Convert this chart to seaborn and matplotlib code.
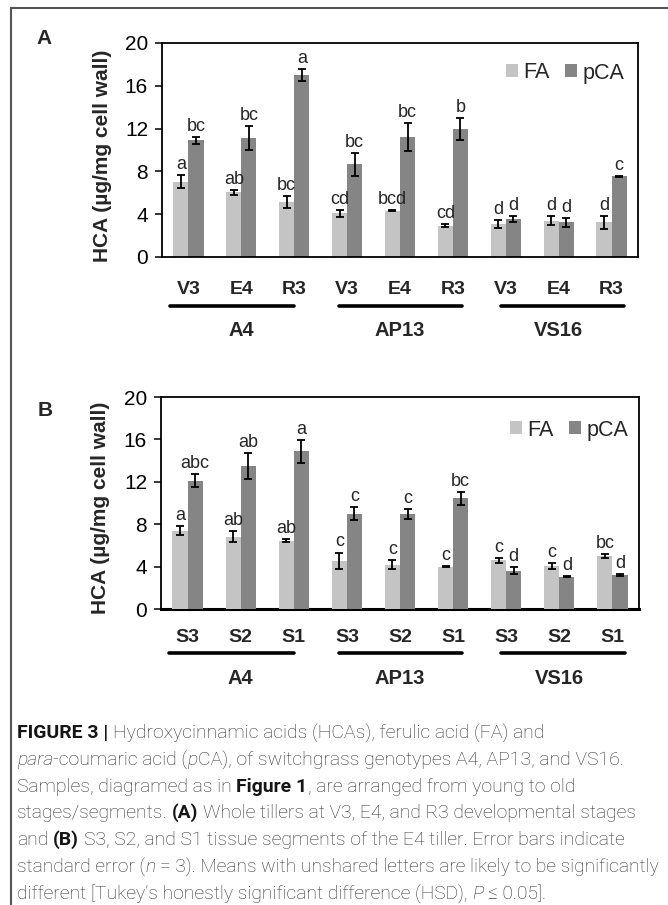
import matplotlib
matplotlib.use("Agg")
import matplotlib.pyplot as plt
import seaborn as sns
import pandas as pd
from matplotlib.lines import Line2D

# ---------------- data ----------------
genotypes = ["A4", "AP13", "VS16"]
acids = ["FA", "pCA"]
stages_A = ["V3", "E4", "R3"]
stages_B = ["S3", "S2", "S1"]

fa_A = [7.05, 6.05, 5.17, 4.07, 4.33, 2.92, 3.07, 3.39, 3.23]
fa_A_se = [0.6, 0.25, 0.55, 0.35, 0.05, 0.15, 0.35, 0.4, 0.6]
pca_A = [10.9, 11.1, 17.0, 8.65, 11.25, 11.95, 3.54, 3.23, 7.55]
pca_A_se = [0.3, 1.1, 0.55, 1.1, 1.3, 1.0, 0.3, 0.45, 0.05]
fa_A_let = ["a", "ab", "bc", "cd", "bcd", "cd", "d", "d", "d"]
pca_A_let = ["bc", "bc", "a", "bc", "bc", "b", "d", "d", "c"]

fa_B = [7.4, 6.83, 6.46, 4.53, 4.19, 3.97, 4.6, 4.03, 5.0]
fa_B_se = [0.4, 0.5, 0.16, 0.8, 0.4, 0.05, 0.22, 0.3, 0.22]
pca_B = [12.1, 13.5, 14.87, 8.98, 8.98, 10.43, 3.62, 3.06, 3.2]
pca_B_se = [0.63, 1.2, 1.1, 0.6, 0.45, 0.6, 0.35, 0.05, 0.1]
fa_B_let = ["a", "ab", "ab", "c", "c", "c", "c", "c", "bc"]
pca_B_let = ["abc", "ab", "a", "c", "c", "bc", "d", "d", "d"]

palette = {"FA": "#c4c4c4", "pCA": "#858585"}

# ---------------- style ----------------
sns.set_style("ticks")
plt.rcParams["font.family"] = ["Liberation Sans", "DejaVu Sans"]

W, H = 668, 905
fig = plt.figure(figsize=(W / 100, H / 100), dpi=100)


def add_axes_px(l, r, t, b):
    return fig.add_axes([l / W, 1 - b / H, (r - l) / W, (b - t) / H])


line_pad = [(-0.35, 0.0), (-0.15, 0.17), (-0.09, 0.23)]


def draw_panel(ax, stages, fa, fa_se, pca, pca_se, fa_let, pca_let,
               tick_off, line_off, grp_off, leg_anchor, base_spine):
    keys = [f"{g}|{s}" for g in genotypes for s in stages]
    df = pd.DataFrame({
        "key": keys * 2,
        "acid": ["FA"] * len(keys) + ["pCA"] * len(keys),
        "value": list(fa) + list(pca),
    })
    sns.barplot(data=df, x="key", y="value", hue="acid", order=keys,
                hue_order=acids, palette=palette, width=0.57, gap=0,
                errorbar=None, saturation=1, legend=False, ax=ax,
                linewidth=0, zorder=2)
    bar_conts = list(ax.containers)
    for cont, ses, lets in zip(bar_conts, [fa_se, pca_se], [fa_let, pca_let]):
        for patch, e, lab in zip(cont.patches, ses, lets):
            x = patch.get_x() + patch.get_width() / 2
            h = patch.get_height()
            ax.errorbar(x, h, yerr=e, fmt="none", ecolor="black",
                        elinewidth=1.3, capsize=3, capthick=1.3, zorder=3)
            ax.annotate(lab, xy=(x, h + e), xytext=(0, 1.5),
                        textcoords="offset points", ha="center",
                        va="bottom", fontsize=13)
    ax.set_xlim(-0.5, len(keys) - 0.5)
    ax.set_ylim(0, 20)
    ax.set_yticks(range(0, 21, 4))
    ax.set_xticks(range(len(keys)))
    ax.set_xticklabels(stages * 3, fontweight="bold", fontsize=14)
    for t in ax.get_xticklabels():
        t.set_verticalalignment("center_baseline")
    ax.tick_params(axis="x", length=0, pad=tick_off * 0.72)
    ax.tick_params(axis="y", direction="out", length=5, width=1.1,
                   labelsize=15, pad=5, colors="black")
    ax.set_xlabel("")
    ax.set_ylabel("HCA (µg/mg cell wall)", fontweight="bold", fontsize=15)
    ax.yaxis.set_label_coords(-(162 - 100) / 476, 0.475)
    ax.yaxis.label.set_verticalalignment("center_baseline")
    for s in ax.spines.values():
        s.set_linewidth(1.3)
        s.set_color("black")
    if base_spine:
        ax.spines["bottom"].set_linewidth(2.2)
        ax.spines["bottom"].set_zorder(1)
    # group brackets and labels
    trans = ax.get_xaxis_transform()
    for gi, g in enumerate(genotypes):
        i0, i2 = gi * 3, gi * 3 + 2
        p0, p1 = line_pad[gi]
        ax.add_line(Line2D([i0 + p0, i2 + p1], [line_off, line_off],
                           transform=trans, color="black", lw=2.6,
                           clip_on=False))
        ax.annotate(g, xy=(i0 + 1, 0), xycoords=trans, xytext=(0, -grp_off),
                    textcoords="offset pixels", ha="center",
                    va="center_baseline", fontsize=14.5, fontweight="bold",
                    annotation_clip=False)
    handles = [c.patches[0] for c in bar_conts]
    ax.legend(handles, acids, loc="center right", bbox_to_anchor=leg_anchor,
              frameon=False, ncol=2, fontsize=15.5, handlelength=0.55,
              handleheight=0.55, handletextpad=0.25, columnspacing=0.7,
              borderpad=0, borderaxespad=0)


axA = add_axes_px(162, 638, 43, 257)
draw_panel(axA, stages_A, fa_A, fa_A_se, pca_A, pca_A_se, fa_A_let, pca_A_let,
           tick_off=31, line_off=-(306 - 257) / 214, grp_off=71,
           leg_anchor=((624 - 162) / 476, 1 - 30 / 214), base_spine=False)

axB = add_axes_px(161, 639, 397, 609)
draw_panel(axB, stages_B, fa_B, fa_B_se, pca_B, pca_B_se, fa_B_let, pca_B_let,
           tick_off=26, line_off=-(653 - 609) / 212, grp_off=67,
           leg_anchor=((628 - 161) / 478, 1 - 33 / 212), base_spine=True)

fig.text(44 / W, 1 - 38 / H, "A", fontsize=15, fontweight="bold",
         ha="center", va="center")
fig.text(45 / W, 1 - 410 / H, "B", fontsize=15, fontweight="bold",
         ha="center", va="center")

# outer frame
fig.add_artist(Line2D([11 / W, 1], [1 - 8 / H, 1 - 8 / H], color="#555555",
                      lw=1.5, transform=fig.transFigure))
fig.add_artist(Line2D([11 / W, 11 / W], [0, 1 - 8 / H], color="#555555",
                      lw=1.5, transform=fig.transFigure))

# ---------------- caption ----------------
FAM = ["Roboto", "DejaVu Sans"]
REG = dict(family=FAM, fontweight="light", color="#303030")
BLD = dict(family=FAM, fontweight="bold", color="#151515")
ITA = dict(family=FAM, fontweight="light", style="italic", color="#303030")

caption = [
    [("FIGURE 3 |", BLD), (" Hydroxycinnamic acids (HCAs), ferulic acid (FA) and", REG)],
    [("para", ITA), ("-coumaric acid (", REG), ("p", ITA),
     ("CA), of switchgrass genotypes A4, AP13, and VS16.", REG)],
    [("Samples, diagramed as in ", REG), ("Figure 1", BLD),
     (", are arranged from young to old", REG)],
    [("stages/segments. ", REG), ("(A)", BLD),
     (" Whole tillers at V3, E4, and R3 developmental stages", REG)],
    [("and ", REG), ("(B)", BLD),
     (" S3, S2, and S1 tissue segments of the E4 tiller. Error bars indicate", REG)],
    [("standard error (", REG), ("n", ITA),
     (" = 3). Means with unshared letters are likely to be significantly", REG)],
    [("different [Tukey\u2019s honestly significant difference (HSD), ", REG),
     ("P", ITA), (" \u2264 0.05].", REG)],
]
line_y = [731, 758, 785, 811, 838, 865, 892]
line_w = [528, 611, 561, 620, 611, 639, 530]

renderer = fig.canvas.get_renderer()


def text_width(s, size, style):
    t = fig.text(0, 0, s, fontsize=size, **style)
    w = t.get_window_extent(renderer).width
    t.remove()
    return w


def run_width(s, size, style):
    sp = text_width("a a", size, style) - text_width("aa", size, style)
    core = s.strip(" ")
    lead = len(s) - len(s.lstrip(" "))
    trail = len(s) - len(s.rstrip(" "))
    w = text_width(core, size, style) if core else 0
    return lead * sp, w, trail * sp


def line_width(runs, size):
    tot = 0
    for s, st in runs:
        a, b, c = run_width(s, size, st)
        tot += a + b + c
    return tot


base = 10.0
sizes = [base * tw / line_width(r, base) for r, tw in zip(caption, line_w)]
common = sorted(sizes)[len(sizes) // 2]

for runs, y, sz in zip(caption, line_y, sizes):
    size = min(common, sz)
    x = 17
    for s, st in runs:
        a, b, c = run_width(s, size, st)
        x += a
        core = s.strip(" ")
        if core:
            fig.text(x / W, 1 - y / H, core, fontsize=size, ha="left",
                     va="center_baseline", **st)
        x += b + c

fig.savefig("out.png", dpi=100)
